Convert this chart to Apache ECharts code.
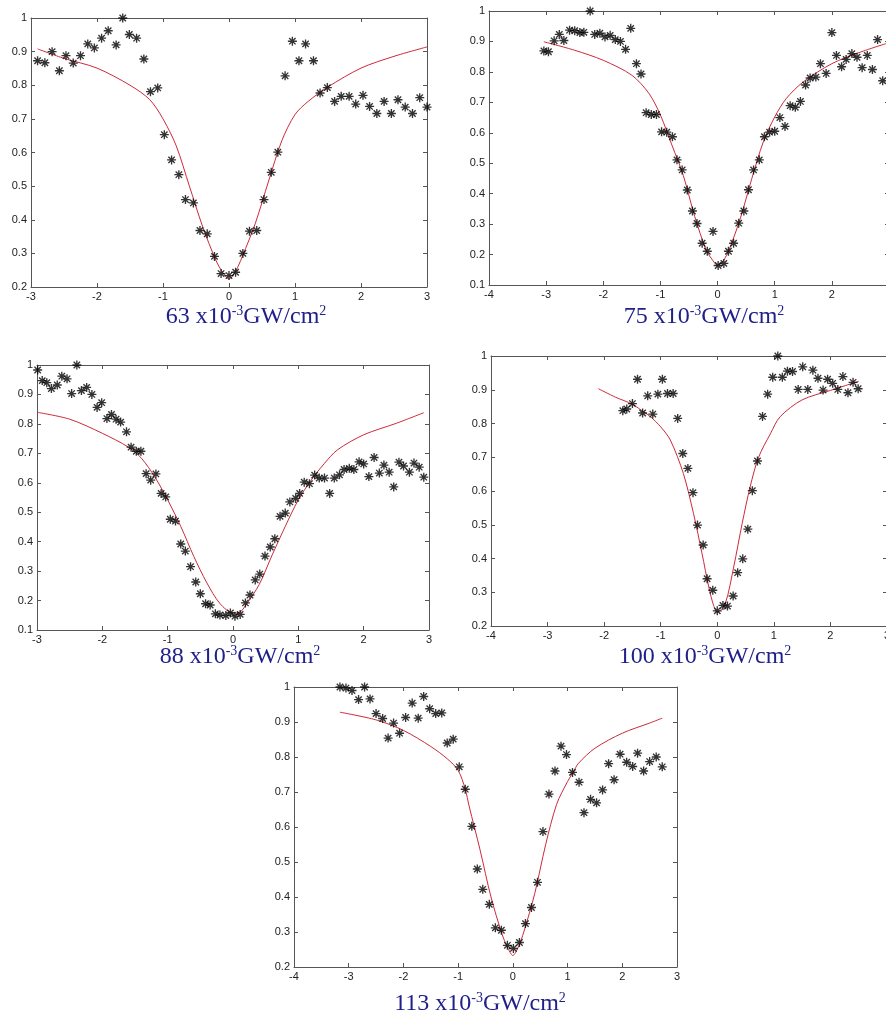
<!DOCTYPE html>
<html>
<head>
<meta charset="utf-8">
<script src="https://cdn.jsdelivr.net/npm/echarts@6/dist/echarts.min.js"></script>
<style>
  html, body { margin: 0; background: #fff; }
  #chart { width: 886px; height: 1019px; }
</style>
</head>
<body>
<div id="chart"></div>
<script>
const pts63 = [[-2.90,0.873],[-2.79,0.867],[-2.68,0.90],[-2.57,0.843],[-2.47,0.888],[-2.36,0.866],[-2.25,0.888],[-2.14,0.923],[-2.04,0.911],[-1.93,0.94],[-1.83,0.962],[-1.71,0.92],[-1.61,1.0],[-1.51,0.951],[-1.40,0.94],[-1.29,0.878],[-1.19,0.781],[-1.08,0.792],[-0.98,0.653],[-0.87,0.578],[-0.76,0.534],[-0.66,0.46],[-0.54,0.45],[-0.44,0.368],[-0.33,0.358],[-0.22,0.291],[-0.12,0.24],[0.0,0.234],[0.10,0.244],[0.21,0.30],[0.31,0.366],[0.42,0.368],[0.53,0.46],[0.64,0.541],[0.74,0.601],[0.85,0.828],[0.96,0.931],[1.06,0.873],[1.16,0.923],[1.28,0.873],[1.38,0.777],[1.49,0.793],[1.60,0.752],[1.70,0.767],[1.82,0.767],[1.92,0.744],[2.03,0.77],[2.13,0.737],[2.24,0.716],[2.35,0.752],[2.46,0.716],[2.56,0.757],[2.67,0.735],[2.78,0.716],[2.89,0.763],[3.00,0.735]];
const fit63 = [[-2.9,0.908],[-2.5,0.88],[-2,0.851],[-1.5,0.80],[-1.2,0.757],[-1,0.70],[-0.8,0.62],[-0.6,0.50],[-0.4,0.38],[-0.2,0.28],[-0.1,0.245],[0,0.224],[0.1,0.247],[0.2,0.29],[0.4,0.39],[0.6,0.515],[0.8,0.635],[1.0,0.713],[1.2,0.752],[1.5,0.795],[2,0.851],[2.5,0.886],[3,0.914]];

const pts75 = [[-3.04,0.869],[-2.96,0.866],[-2.86,0.902],[-2.77,0.923],[-2.69,0.903],[-2.59,0.937],[-2.50,0.935],[-2.41,0.929],[-2.34,0.930],[-2.23,1.0],[-2.15,0.923],[-2.06,0.927],[-1.97,0.915],[-1.88,0.92],[-1.79,0.906],[-1.70,0.90],[-1.61,0.874],[-1.52,0.943],[-1.42,0.827],[-1.34,0.793],[-1.25,0.666],[-1.16,0.66],[-1.07,0.66],[-0.98,0.603],[-0.89,0.602],[-0.79,0.587],[-0.71,0.511],[-0.62,0.478],[-0.53,0.412],[-0.44,0.343],[-0.36,0.302],[-0.27,0.237],[-0.18,0.211],[-0.08,0.276],[0.01,0.164],[0.11,0.171],[0.19,0.211],[0.28,0.237],[0.37,0.303],[0.46,0.343],[0.54,0.413],[0.63,0.478],[0.73,0.511],[0.82,0.587],[0.91,0.602],[1.0,0.605],[1.09,0.65],[1.18,0.621],[1.27,0.689],[1.36,0.684],[1.45,0.703],[1.54,0.757],[1.62,0.78],[1.72,0.783],[1.80,0.827],[1.90,0.795],[2.00,0.929],[2.08,0.854],[2.17,0.817],[2.25,0.841],[2.35,0.86],[2.44,0.848],[2.53,0.814],[2.62,0.854],[2.71,0.808],[2.80,0.906],[2.89,0.771]];
const fit75 = [[-3.04,0.899],[-2.5,0.871],[-2,0.838],[-1.5,0.789],[-1.2,0.729],[-1,0.658],[-0.8,0.56],[-0.6,0.46],[-0.4,0.325],[-0.2,0.215],[-0.1,0.185],[0,0.165],[0.1,0.18],[0.2,0.215],[0.4,0.32],[0.6,0.45],[0.8,0.57],[1.0,0.652],[1.2,0.712],[1.5,0.767],[2,0.827],[2.5,0.865],[2.95,0.893]];

const pts88 = [[-2.99,0.983],[-2.92,0.947],[-2.85,0.94],[-2.78,0.92],[-2.69,0.932],[-2.62,0.962],[-2.54,0.953],[-2.47,0.903],[-2.39,1.0],[-2.32,0.913],[-2.24,0.924],[-2.16,0.9],[-2.08,0.856],[-2.01,0.872],[-1.93,0.818],[-1.86,0.832],[-1.79,0.816],[-1.72,0.806],[-1.63,0.773],[-1.56,0.721],[-1.48,0.707],[-1.41,0.707],[-1.33,0.631],[-1.26,0.609],[-1.18,0.630],[-1.10,0.564],[-1.03,0.552],[-0.96,0.476],[-0.88,0.47],[-0.80,0.392],[-0.73,0.368],[-0.65,0.315],[-0.57,0.263],[-0.50,0.223],[-0.42,0.189],[-0.35,0.185],[-0.27,0.155],[-0.20,0.151],[-0.11,0.149],[-0.04,0.158],[0.03,0.147],[0.11,0.153],[0.19,0.192],[0.26,0.219],[0.34,0.27],[0.41,0.29],[0.49,0.351],[0.57,0.382],[0.64,0.41],[0.72,0.486],[0.80,0.497],[0.87,0.535],[0.96,0.547],[1.02,0.564],[1.09,0.602],[1.17,0.597],[1.25,0.626],[1.32,0.616],[1.40,0.616],[1.48,0.564],[1.55,0.616],[1.63,0.627],[1.70,0.645],[1.78,0.649],[1.85,0.645],[1.93,0.671],[2.00,0.664],[2.08,0.621],[2.16,0.686],[2.24,0.633],[2.31,0.66],[2.39,0.636],[2.46,0.586],[2.54,0.67],[2.61,0.657],[2.70,0.636],[2.77,0.667],[2.85,0.653],[2.92,0.619]];
const fit88 = [[-2.99,0.839],[-2.5,0.816],[-2,0.768],[-1.6,0.721],[-1.4,0.683],[-1.2,0.621],[-1,0.542],[-0.8,0.452],[-0.6,0.35],[-0.4,0.26],[-0.2,0.19],[0,0.158],[0.1,0.16],[0.2,0.186],[0.4,0.254],[0.6,0.355],[0.8,0.452],[1.0,0.542],[1.2,0.61],[1.4,0.666],[1.6,0.712],[2,0.763],[2.5,0.802],[2.92,0.838]];

const pts100 = [[-1.67,0.838],[-1.60,0.843],[-1.50,0.859],[-1.41,0.931],[-1.32,0.831],[-1.23,0.882],[-1.14,0.828],[-1.05,0.887],[-0.97,0.931],[-0.88,0.889],[-0.78,0.889],[-0.70,0.815],[-0.61,0.711],[-0.52,0.667],[-0.43,0.595],[-0.35,0.499],[-0.25,0.44],[-0.18,0.34],[-0.08,0.306],[0.0,0.245],[0.10,0.261],[0.18,0.259],[0.28,0.289],[0.36,0.358],[0.45,0.399],[0.54,0.487],[0.62,0.601],[0.71,0.689],[0.80,0.821],[0.89,0.887],[0.98,0.937],[1.07,1.0],[1.15,0.937],[1.24,0.955],[1.33,0.954],[1.43,0.901],[1.51,0.968],[1.60,0.901],[1.69,0.958],[1.78,0.934],[1.87,0.899],[1.95,0.931],[2.04,0.919],[2.13,0.901],[2.22,0.939],[2.31,0.891],[2.40,0.922],[2.49,0.903]];
const fit100 = [[-2.1,0.903],[-1.8,0.878],[-1.5,0.857],[-1.3,0.834],[-1.18,0.82],[-1.0,0.79],[-0.83,0.751],[-0.6,0.652],[-0.42,0.533],[-0.27,0.415],[-0.15,0.315],[-0.065,0.261],[0,0.241],[0.14,0.266],[0.29,0.375],[0.44,0.504],[0.58,0.612],[0.73,0.70],[0.94,0.77],[1.11,0.82],[1.5,0.87],[2.0,0.898],[2.5,0.925]];

const pts113 = [[-3.16,1.0],[-3.05,0.997],[-2.94,0.99],[-2.82,0.964],[-2.71,1.0],[-2.61,0.966],[-2.50,0.924],[-2.38,0.91],[-2.28,0.854],[-2.18,0.897],[-2.07,0.868],[-1.96,0.913],[-1.84,0.954],[-1.73,0.911],[-1.63,0.973],[-1.52,0.938],[-1.41,0.924],[-1.30,0.926],[-1.20,0.84],[-1.09,0.851],[-0.98,0.772],[-0.87,0.708],[-0.75,0.602],[-0.65,0.48],[-0.55,0.422],[-0.43,0.379],[-0.32,0.312],[-0.21,0.305],[-0.10,0.262],[0.01,0.253],[0.12,0.27],[0.23,0.324],[0.34,0.37],[0.45,0.442],[0.55,0.587],[0.66,0.694],[0.77,0.76],[0.88,0.831],[0.98,0.807],[1.09,0.756],[1.21,0.728],[1.30,0.641],[1.42,0.679],[1.53,0.669],[1.64,0.706],[1.75,0.781],[1.85,0.735],[1.96,0.808],[2.08,0.785],[2.19,0.773],[2.28,0.811],[2.39,0.76],[2.50,0.787],[2.62,0.80],[2.73,0.772]];
const fit113 = [[-3.16,0.928],[-2.5,0.906],[-2,0.876],[-1.5,0.83],[-1.2,0.795],[-1,0.762],[-0.87,0.708],[-0.8,0.66],[-0.6,0.535],[-0.4,0.40],[-0.2,0.295],[-0.1,0.257],[0,0.233],[0.1,0.257],[0.2,0.30],[0.4,0.41],[0.6,0.55],[0.8,0.665],[1.0,0.73],[1.1,0.756],[1.2,0.782],[1.5,0.825],[2,0.868],[2.5,0.897],[2.73,0.911]];

const captions = ['63', '75', '88', '100', '113'];
const xRanges = [[-3, 3], [-4, 3], [-3, 3], [-4, 3], [-4, 3]];
const yMins = [0.2, 0.1, 0.1, 0.2, 0.2];

const panels = [
  { pts: pts63, fit: fit63, grid: { left: 31, top: 18, width: 396, height: 269 }, cap: [246, 304] },
  { pts: pts75, fit: fit75, grid: { left: 489, top: 11, width: 400, height: 274 }, cap: [704, 304] },
  { pts: pts88, fit: fit88, grid: { left: 37, top: 365, width: 392, height: 265 }, cap: [240, 644] },
  { pts: pts100, fit: fit100, grid: { left: 491, top: 356, width: 396, height: 270 }, cap: [705, 644] },
  { pts: pts113, fit: fit113, grid: { left: 294, top: 687, width: 383, height: 280 }, cap: [480, 991] },
];

// MATLAB style '*' marker
const star = 'path://M8.5 0H11.5V20H8.5Z M0 8.5H20V11.5H0Z M3.96 1.84L18.16 16.04L16.04 18.16L1.84 3.96Z M18.16 3.96L3.96 18.16L1.84 16.04L16.04 1.84Z';

const axisColor = '#555';
const labelStyle = { color: '#222', fontSize: 11, fontFamily: 'Liberation Sans', margin: 4 };

const chart = echarts.init(document.getElementById('chart'));
const option = { animation: false, backgroundColor: '#fff', grid: [], xAxis: [], yAxis: [], series: [], graphic: [] };

panels.forEach(function (p, i) {
  // keep the grid exactly where it is, even if a label runs off the canvas
  option.grid.push(Object.assign({ outerBoundsMode: 'none', containLabel: false }, p.grid));
  const xr = xRanges[i];
  [ 'bottom', 'top' ].forEach(function (pos) {
    option.xAxis.push({
      type: 'value', gridIndex: i, position: pos, min: xr[0], max: xr[1], interval: 1,
      axisLine: { onZero: false, lineStyle: { color: axisColor, width: 1 } },
      axisTick: { inside: true, length: 4, lineStyle: { color: axisColor } },
      axisLabel: pos === 'bottom' ? labelStyle : { show: false },
      splitLine: { show: false },
    });
  });
  [ 'left', 'right' ].forEach(function (pos) {
    option.yAxis.push({
      type: 'value', gridIndex: i, position: pos, min: yMins[i], max: 1, interval: 0.1,
      axisLine: { onZero: false, lineStyle: { color: axisColor, width: 1 } },
      axisTick: { inside: true, length: 4, lineStyle: { color: axisColor } },
      axisLabel: pos === 'left' ? labelStyle : { show: false },
      splitLine: { show: false },
    });
  });
  option.series.push({
    type: 'line', xAxisIndex: i * 2, yAxisIndex: i * 2, data: p.fit,
    showSymbol: false, smooth: 0.3, lineStyle: { color: '#cc2a3a', width: 1 }, z: 2,
  });
  option.series.push({
    type: 'scatter', xAxisIndex: i * 2, yAxisIndex: i * 2, data: p.pts,
    symbol: star, symbolSize: 9, itemStyle: { color: '#000' }, z: 3,
  });
  option.graphic.push({
    type: 'text', x: p.cap[0], y: p.cap[1],
    style: {
      text: '{n|' + captions[i] + ' x10}{s|-3}{n|GW/cm}{s|2}',
      align: 'center', textAlign: 'center', verticalAlign: 'top', textVerticalAlign: 'top',
      fill: '#20208a',
      rich: {
        n: { fontSize: 24, fontFamily: 'Liberation Serif', fill: '#20208a', color: '#20208a', lineHeight: 26 },
        s: { fontSize: 14, fontFamily: 'Liberation Serif', fill: '#20208a', color: '#20208a', lineHeight: 16, verticalAlign: 'top' },
      },
    },
  });
});

chart.setOption(option);
</script>
</body>
</html>
